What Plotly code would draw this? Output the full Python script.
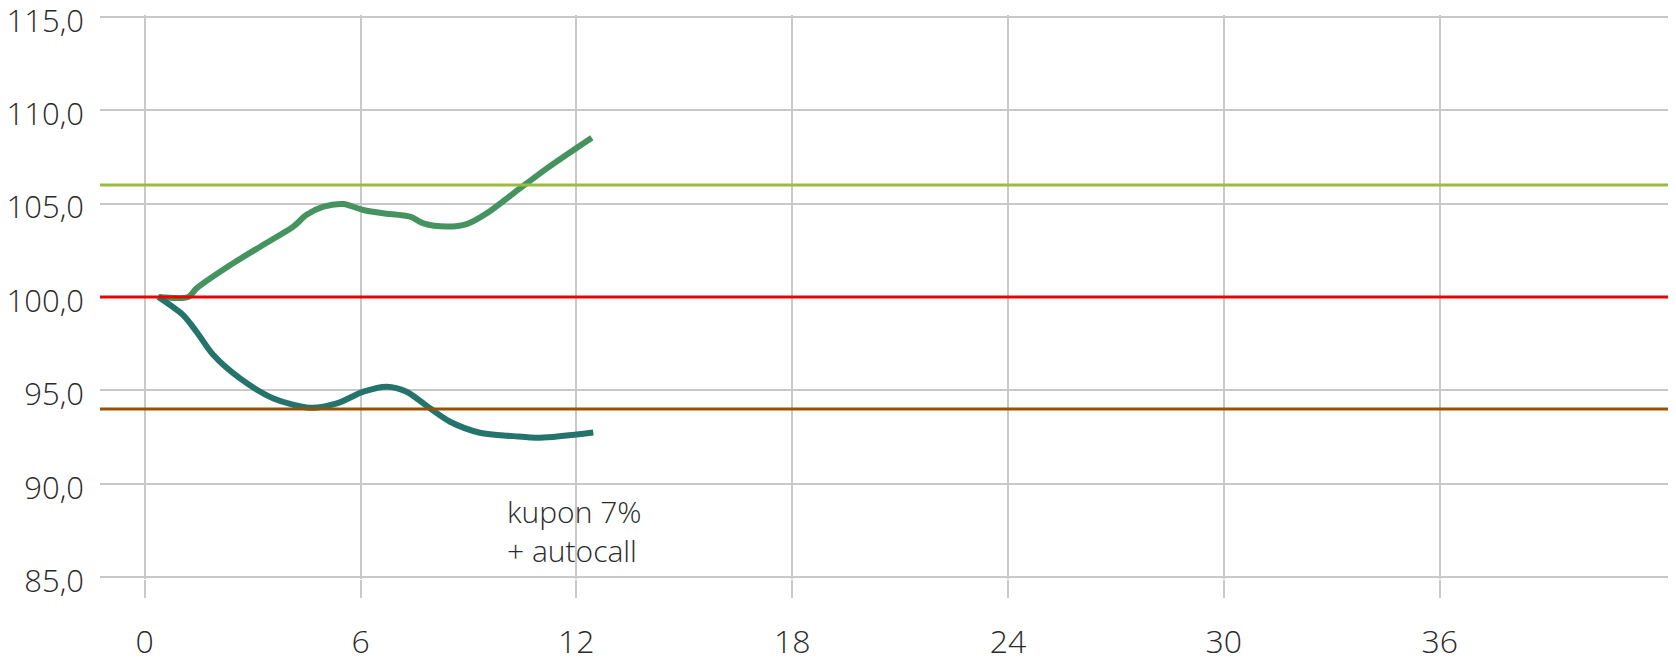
import plotly.graph_objects as go

# months since start
x_up = [0.38, 1.21, 1.44, 2.37, 3.30, 4.13, 4.50, 4.97, 5.52, 6.08, 6.63, 7.38,
        7.75, 8.40, 8.95, 9.51, 10.25, 11.18, 12.43]
y_up = [100.0, 100.0, 100.46, 101.7, 102.8, 103.77, 104.4, 104.84, 104.98, 104.66,
        104.48, 104.3, 103.94, 103.77, 103.9, 104.48, 105.55, 106.89, 108.53]

x_down = [0.38, 1.07, 1.44, 1.91, 2.65, 3.58, 4.60, 5.34, 6.08, 6.73, 7.28, 7.93,
          8.49, 9.32, 10.25, 10.99, 12.47]
y_down = [100.0, 99.03, 98.14, 96.89, 95.64, 94.57, 94.07, 94.30, 94.93, 95.2, 94.93,
          94.04, 93.32, 92.73, 92.55, 92.46, 92.74]

# reference levels: autocall, start, barrier
levels = [106.0, 100.0, 94.0]
level_colors = ['#9BBB3F', '#EE0000', '#9B5000']

x_ticks = [0, 6, 12, 18, 24, 30, 36]
y_ticks = [85, 90, 95, 100, 105, 110, 115]
y_labels = ['85,0', '90,0', '95,0', '100,0', '105,0', '110,0', '115,0']

note_text = 'kupon 7%<br>+ autocall'
note_pos = (10.02, 87.45)

FONT = dict(family='Open Sans', size=31, color='#2b2b2b', weight=300)
XFONT = dict(FONT, size=32)

fig = go.Figure()

for lvl, col in zip(levels, level_colors):
    fig.add_hline(y=lvl, line=dict(color=col, width=3), layer='above')

fig.add_trace(go.Scatter(
    x=x_up, y=y_up, mode='lines',
    line=dict(color='#45945F', width=6, shape='spline', smoothing=0.8),
    showlegend=False
))
fig.add_trace(go.Scatter(
    x=x_down, y=y_down, mode='lines',
    line=dict(color='#24746B', width=6, shape='spline', smoothing=0.8),
    showlegend=False
))

fig.add_annotation(
    x=note_pos[0], y=note_pos[1], text=note_text, showarrow=False,
    xanchor='left', yanchor='middle', align='left',
    font=dict(family='Open Sans', size=30, color='#2b2b2b', weight=300)
)

fig.update_xaxes(
    range=[-1.243, 42.57], tickvals=x_ticks,
    showgrid=True, gridcolor='#C8C8C8', gridwidth=2,
    ticks='outside', ticklen=18, tickwidth=2, tickcolor='#C8C8C8',
    ticklabelstandoff=17, automargin=False, ticklabeloverflow='allow',
    zeroline=False, showline=False, tickfont=XFONT
)
fig.update_yaxes(
    range=[84.9, 115.1], tickvals=y_ticks, ticktext=y_labels,
    showgrid=True, gridcolor='#C8C8C8', gridwidth=2,
    ticklabelstandoff=15, ticklabelshift=4, automargin=False,
    ticklabeloverflow='allow',
    zeroline=False, showline=False, tickfont=FONT
)

# page body has an 8px margin, so the figure starts at (8, 8) in the window
fig.update_layout(
    width=1668, height=651,
    margin=dict(l=92, r=0, t=6.8, b=80.4),
    plot_bgcolor='white', paper_bgcolor='white',
    font=FONT
)

fig.write_html("out.html")
